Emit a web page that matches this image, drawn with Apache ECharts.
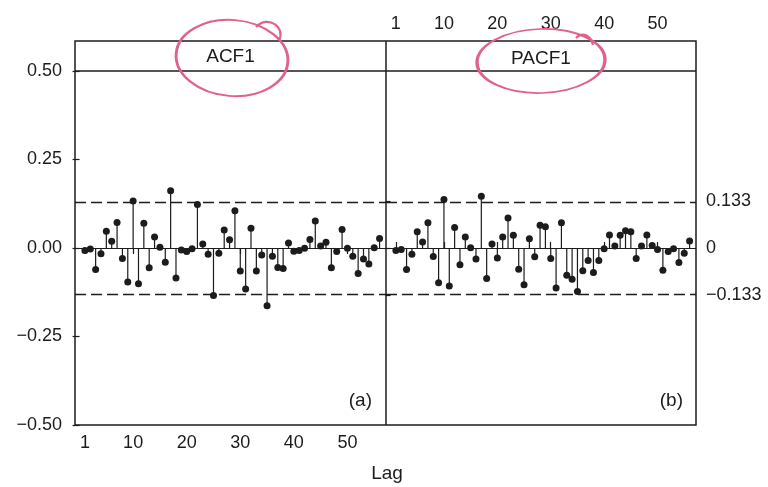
<!DOCTYPE html>
<html>
<head>
<meta charset="utf-8">
<script src="https://cdn.jsdelivr.net/npm/echarts@6/dist/echarts.min.js"></script>
<style>
html,body{margin:0;padding:0;background:#fff;}
#c{width:768px;height:487px;}
</style>
</head>
<body>
<div id="c"></div>
<script>
// ---- data ----
const lags = [1,2,3,4,5,6,7,8,9,10,11,12,13,14,15,16,17,18,19,20,21,22,23,24,25,26,27,28,29,30,31,32,33,34,35,36,37,38,39,40,41,42,43,44,45,46,47,48,49,50,51,52,53,54,55,56];
const acf1 = [-0.007,-0.003,-0.061,-0.016,0.047,0.019,0.072,-0.030,-0.096,0.133,
  -0.101,0.070,-0.056,0.031,0.002,-0.040,0.162,-0.085,-0.006,-0.010,
  -0.002,0.123,0.011,-0.018,-0.134,-0.015,0.051,0.023,0.105,-0.065,
  -0.116,0.056,-0.065,-0.020,-0.163,-0.023,-0.055,-0.058,0.014,-0.009,
  -0.007,-0.001,0.024,0.076,0.006,0.016,-0.056,-0.010,0.052,-0.001,
  -0.023,-0.072,-0.031,-0.045,0.001,0.027];
const pacf1 = [-0.007,-0.004,-0.061,-0.018,0.046,0.017,0.071,-0.024,-0.098,0.137,
  -0.107,0.058,-0.047,0.031,0.001,-0.031,0.146,-0.086,0.011,-0.028,
  0.031,0.085,0.036,-0.060,-0.104,0.026,-0.025,0.064,0.060,-0.030,
  -0.113,0.071,-0.077,-0.088,-0.123,-0.064,-0.035,-0.069,-0.035,-0.002,
  0.037,0.006,0.036,0.049,0.046,-0.030,0.006,0.037,0.007,-0.004,
  -0.063,-0.010,-0.002,-0.041,-0.015,0.020];
const panelTitles = ['ACF1','PACF1'];
const panelTags = ['(a)','(b)'];
const lagTicks = [1,10,20,30,40,50];
const yTicks = [-0.5,-0.25,0,0.25,0.5];
const bound = 0.133;
const boundTicks = [-0.133,0,0.133];
const boundLabels = {'-0.133':'\u22120.133','0':'0','0.133':'0.133'};
const xLabel = 'Lag';

// ---- chart ----
const ink = '#1c1c1c';
const pink = '#e0628a';
const font = "'Liberation Sans', Arial, sans-serif";
const chart = echarts.init(document.getElementById('c'), null, {renderer:'canvas'});

function pairs(vals){ return lags.map((l,i)=>[l, vals[i]]); }
const xMin = -0.85, xMax = 57.2;

function seriesFor(idx, vals){
  return [
    {type:'bar', xAxisIndex:idx, yAxisIndex:idx, data:pairs(vals), barWidth:1.2,
     itemStyle:{color:ink, opacity:1}, silent:true, animation:false, z:3},
    {type:'scatter', xAxisIndex:idx, yAxisIndex:idx, data:pairs(vals), symbolSize:7,
     itemStyle:{color:ink, opacity:1}, silent:true, animation:false, z:4,
     markLine:{silent:true, symbol:'none', animation:false, label:{show:false},
       data:[
         {yAxis:0, lineStyle:{type:'solid', color:ink, width:1.2}},
         {yAxis:bound, lineStyle:{type:[11,5], color:ink, width:1.3}},
         {yAxis:-bound, lineStyle:{type:[11,5], color:ink, width:1.3}}
       ]}}
  ];
}

const option = {
  backgroundColor:'#fff',
  animation:false,
  textStyle:{fontFamily:font},
  grid:[
    {left:75, top:71, width:311, height:354, show:false, containLabel:false, outerBoundsMode:'none'},
    {left:386, top:71, width:310, height:354, show:false, containLabel:false, outerBoundsMode:'none'}
  ],
  xAxis:[
    {gridIndex:0, type:'value', min:xMin, max:xMax, position:'bottom',
     axisLine:{show:false}, splitLine:{show:false},
     axisTick:{show:true, customValues:lagTicks, length:6, lineStyle:{color:ink, width:1.2}},
     axisLabel:{customValues:lagTicks, margin:9, fontSize:18, color:ink, fontFamily:font}},
    {gridIndex:1, type:'value', min:xMin, max:xMax, position:'top', offset:30,
     axisLine:{show:false}, splitLine:{show:false},
     axisTick:{show:true, customValues:lagTicks, length:6, lineStyle:{color:ink, width:1.2}},
     axisLabel:{customValues:lagTicks, margin:8, fontSize:18, color:ink, fontFamily:font}}
  ],
  yAxis:[
    {gridIndex:0, type:'value', min:-0.5, max:0.5, interval:0.25, position:'left',
     axisLine:{show:false}, splitLine:{show:false},
     axisTick:{show:true, length:7, lineStyle:{color:ink, width:1.2}},
     axisLabel:{margin:13, fontSize:18, color:ink, fontFamily:font,
       formatter:v=>v.toFixed(2).replace('-','\u2212')}},
    {gridIndex:1, type:'value', min:-0.5, max:0.5, position:'right',
     axisLine:{show:false}, splitLine:{show:false},
     axisTick:{show:true, inside:true, customValues:boundTicks, length:5, lineStyle:{color:ink, width:1.2}},
     axisLabel:{customValues:boundTicks, margin:10, fontSize:18, color:ink, fontFamily:font,
       formatter:v=>boundLabels[String(v)] !== undefined ? boundLabels[String(v)] : String(v)}}
  ],
  series:[].concat(seriesFor(0, acf1), seriesFor(1, pacf1)),
  graphic:[
    // frame, strip and divider
    {type:'rect', shape:{x:75, y:41, width:621, height:384}, style:{fill:'none', stroke:ink, lineWidth:1.5}, z:10, silent:true},
    {type:'line', shape:{x1:75, y1:71, x2:696, y2:71}, style:{stroke:ink, lineWidth:1.5}, z:10, silent:true},
    {type:'line', shape:{x1:386, y1:41, x2:386, y2:425}, style:{stroke:ink, lineWidth:1.5}, z:10, silent:true},
    {type:'text', x:230.5, y:57, style:{text:panelTitles[0], font:'19px '+font, fill:ink, align:'center', verticalAlign:'middle'}, z:11, silent:true},
    {type:'text', x:541, y:59, style:{text:panelTitles[1], font:'19px '+font, fill:ink, align:'center', verticalAlign:'middle'}, z:11, silent:true},
    {type:'text', x:372, y:401, style:{text:panelTags[0], font:'19px '+font, fill:ink, align:'right', verticalAlign:'middle'}, z:11, silent:true},
    {type:'text', x:683, y:401, style:{text:panelTags[1], font:'19px '+font, fill:ink, align:'right', verticalAlign:'middle'}, z:11, silent:true},
    {type:'text', x:387, y:474, style:{text:xLabel, font:'19px '+font, fill:ink, align:'center', verticalAlign:'middle'}, z:11, silent:true},
    // pink hand-drawn annotations
    {type:'circle', shape:{cx:0, cy:0, r:38}, x:232, y:58, scaleX:56/38, scaleY:1, rotation:-0.08,
     style:{fill:'none', stroke:pink, lineWidth:2.4, strokeNoScale:true}, z:20, silent:true},
    {type:'bezierCurve', shape:{x1:256, y1:27, cpx1:268, cpy1:14, cpx2:286, cpy2:28, x2:279, y2:40},
     style:{fill:'none', stroke:pink, lineWidth:2.2}, z:20, silent:true},
    {type:'circle', shape:{cx:0, cy:0, r:32}, x:541, y:61, scaleX:64/32, scaleY:1, rotation:0.03,
     style:{fill:'none', stroke:pink, lineWidth:2.4, strokeNoScale:true}, z:20, silent:true},
    {type:'bezierCurve', shape:{x1:576, y1:38, cpx1:582, cpy1:32, cpx2:590, cpy2:34, x2:593, y2:45},
     style:{fill:'none', stroke:pink, lineWidth:2.2}, z:20, silent:true}
  ]
};
chart.setOption(option);
</script>
</body>
</html>
